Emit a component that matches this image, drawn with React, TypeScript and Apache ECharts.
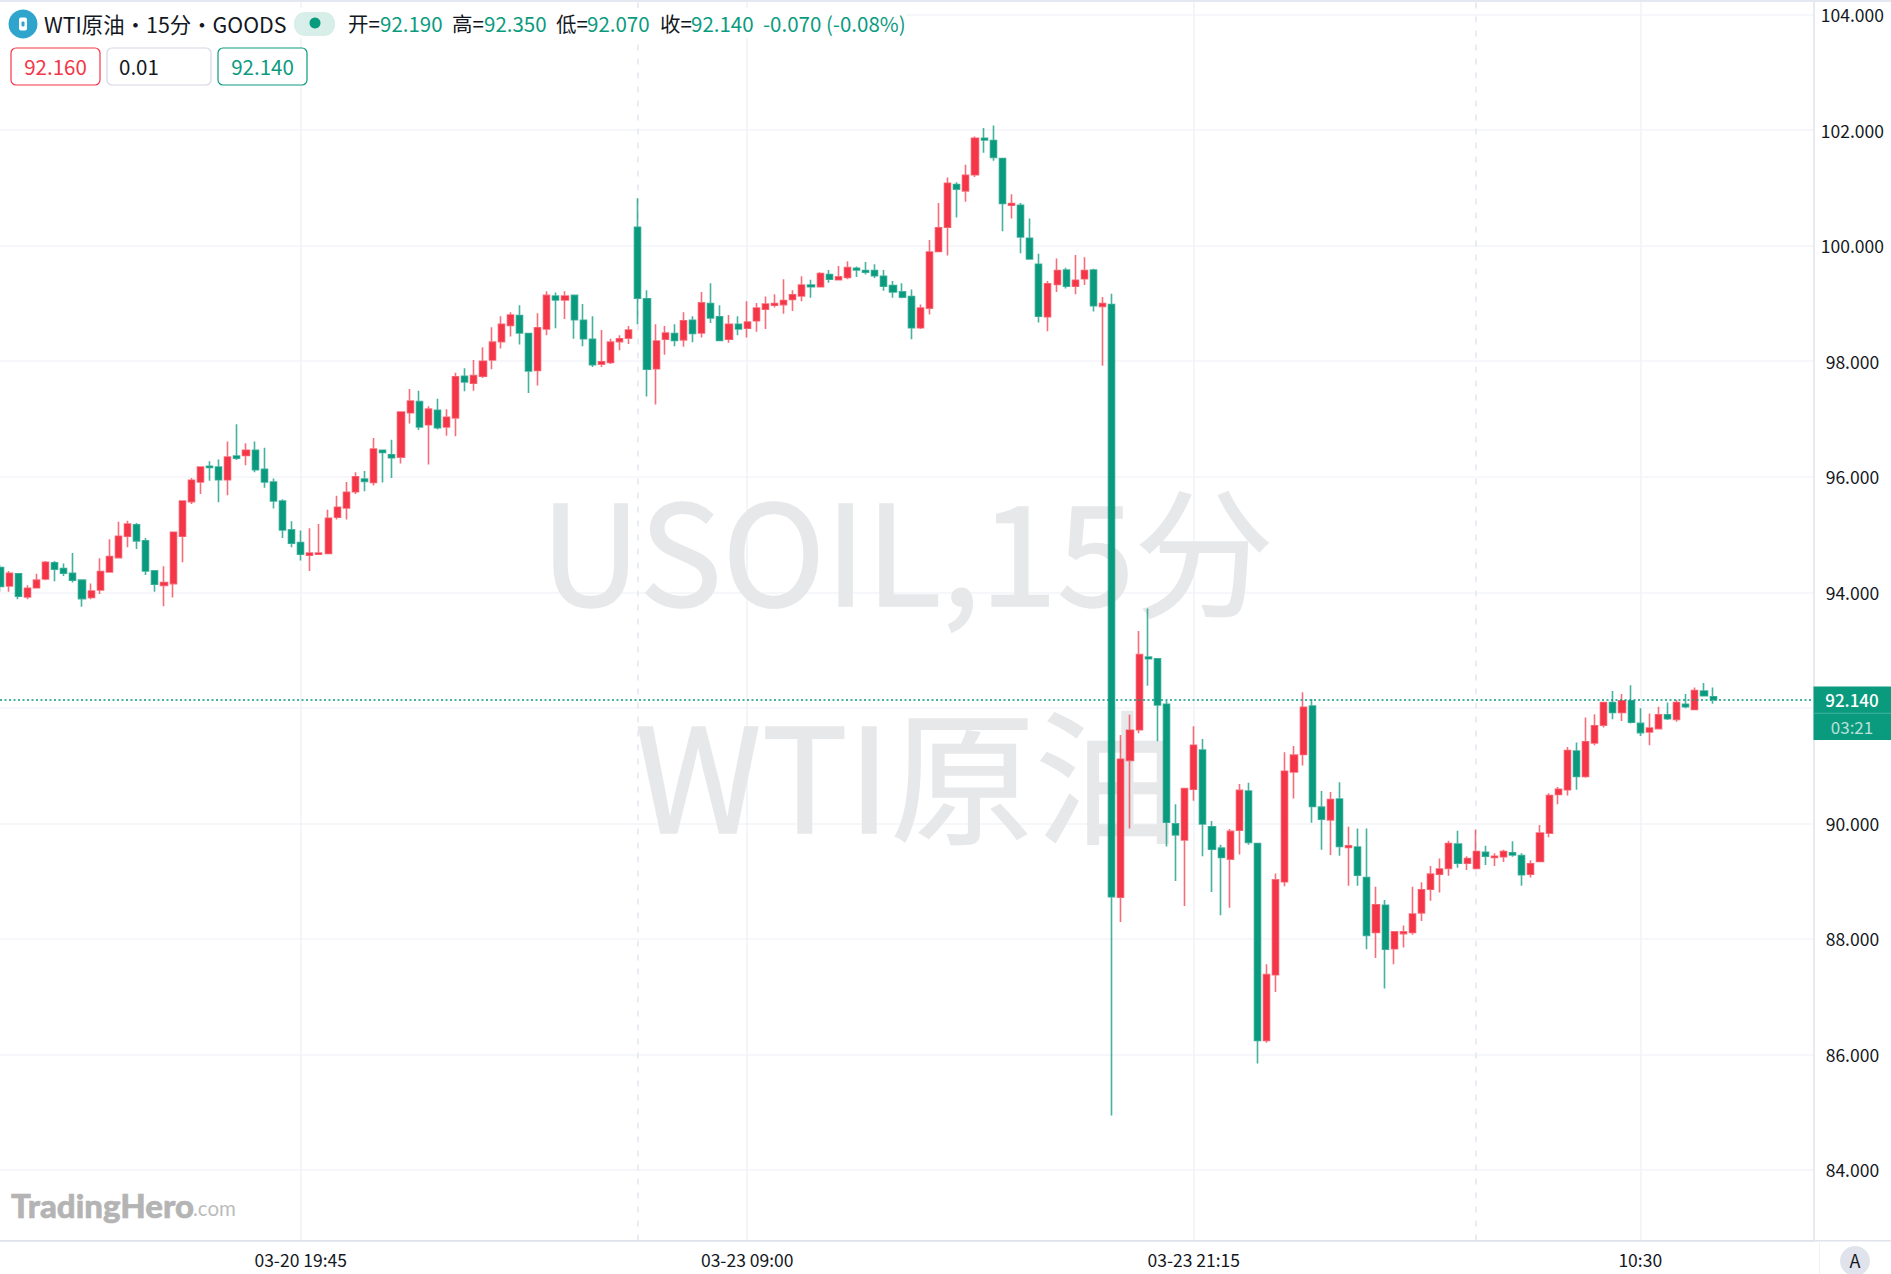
import React, { useEffect, useRef } from "react";
import * as echarts from "echarts";

// Candles, left to right (15-minute bars)
const opens = [
  94.43,94.11,94.32,93.92,94.08,94.23,94.51,94.41,94.33,94.21,
  93.91,94.04,94.35,94.60,94.97,95.17,94.89,94.37,94.12,94.15,
  94.97,95.57,95.91,96.18,96.17,95.95,96.36,96.37,96.46,96.13,
  95.91,95.58,95.08,94.86,94.64,94.66,94.67,95.30,95.46,95.74,
  95.96,95.90,96.46,96.38,96.34,97.11,97.30,96.90,97.15,96.86,
  97.02,97.74,97.62,97.74,98.02,98.34,98.62,98.79,98.48,97.84,
  98.56,99.13,99.06,99.14,98.71,98.38,97.95,97.98,98.34,98.40,
  100.32,99.08,97.87,98.38,98.48,98.37,98.71,98.49,99.00,98.77,
  98.38,98.64,98.57,98.70,98.90,98.97,98.98,99.07,99.13,99.32,
  99.29,99.50,99.41,99.45,99.61,99.57,99.57,99.47,99.31,99.20,
  99.12,98.58,98.92,99.90,100.32,101.06,100.95,101.23,101.86,101.82,
  101.51,100.70,100.70,100.13,99.68,98.77,99.33,99.58,99.30,99.43,
  99.58,98.95,98.98,88.72,91.09,91.62,92.88,92.85,92.06,89.99,
  89.71,90.59,91.27,89.94,89.57,89.38,89.88,90.56,89.65,86.24,
  87.38,88.99,90.89,91.19,92.03,90.28,90.06,90.42,89.58,89.59,
  89.06,88.11,88.58,87.83,88.09,88.11,88.45,88.86,89.12,89.22,
  89.64,89.31,89.22,89.50,89.41,89.42,89.49,89.44,89.12,89.34,
  89.83,90.50,90.58,91.25,90.81,91.39,91.70,92.09,91.92,92.12,
  91.73,91.58,91.64,91.88,91.80,92.06,91.97,92.29,92.19,
];
const closes = [
  94.10,94.33,93.93,94.07,94.21,94.52,94.40,94.33,94.21,93.89,
  94.02,94.36,94.62,94.97,95.18,94.89,94.37,94.14,94.17,95.04,
  95.58,95.94,96.17,96.16,95.95,96.34,96.32,96.46,96.12,95.91,
  95.58,95.08,94.85,94.66,94.68,94.68,95.28,95.47,95.73,96.00,
  95.92,96.48,96.42,96.33,97.12,97.31,96.86,97.17,96.85,97.03,
  97.73,97.64,97.75,98.00,98.33,98.64,98.80,98.49,97.83,98.58,
  99.14,99.06,99.13,98.72,98.39,97.94,97.99,98.33,98.39,98.54,
  99.09,97.86,98.35,98.49,98.36,98.70,98.48,99.01,98.75,98.36,
  98.64,98.56,98.68,98.92,98.99,99.00,99.05,99.15,99.32,99.29,
  99.52,99.42,99.46,99.62,99.58,99.54,99.48,99.30,99.20,99.11,
  98.58,98.92,99.89,100.31,101.08,100.98,101.22,101.86,101.83,101.53,
  100.73,100.73,100.15,99.77,98.78,99.34,99.57,99.30,99.40,99.57,
  98.96,99.00,88.73,91.11,91.61,92.92,92.85,92.05,90.02,89.80,
  90.60,91.35,89.99,89.55,89.41,89.86,90.57,89.67,86.24,87.38,
  89.02,90.90,91.18,92.01,90.29,90.07,90.41,89.60,89.61,89.10,
  88.06,88.59,87.82,88.12,88.12,88.43,88.85,89.12,89.21,89.65,
  89.31,89.39,89.51,89.43,89.43,89.51,89.45,89.11,89.30,89.83,
  90.48,90.59,91.26,90.81,91.41,91.69,92.09,91.92,92.12,91.75,
  91.57,91.65,91.88,91.81,92.09,92.02,92.30,92.21,92.14,
];
const lows = [
  94.01,94.01,93.88,93.88,94.08,94.21,94.19,94.28,94.17,93.75,
  93.88,93.97,94.34,94.60,94.78,94.75,94.30,94.01,93.76,93.91,
  94.52,95.53,95.70,95.93,95.56,95.68,96.29,96.20,96.08,95.81,
  95.45,94.94,94.78,94.55,94.37,94.66,94.67,95.26,95.26,95.70,
  95.75,95.85,95.90,95.98,96.23,96.92,96.81,96.21,96.82,96.71,
  96.70,97.48,97.49,97.71,97.86,98.22,98.43,98.29,97.45,97.58,
  98.45,98.57,98.73,98.39,98.26,97.90,97.90,97.95,98.19,98.30,
  98.64,97.39,97.25,98.11,98.26,98.25,98.33,98.41,98.66,98.36,
  98.32,98.45,98.41,98.51,98.56,98.93,98.82,98.87,99.04,99.10,
  99.28,99.36,99.41,99.42,99.46,99.50,99.44,99.22,99.10,99.09,
  98.38,98.56,98.81,99.89,99.83,100.49,100.76,101.19,101.61,101.47,
  100.25,100.47,99.87,99.77,98.67,98.52,99.20,99.26,99.16,99.32,
  98.86,97.92,84.94,88.29,89.91,91.56,92.38,91.42,89.60,89.00,
  88.57,90.39,89.43,88.81,88.41,88.54,89.46,89.63,85.84,86.20,
  87.08,88.91,90.43,91.00,90.01,89.54,89.45,89.44,88.92,88.92,
  87.82,87.67,87.14,87.56,87.85,88.07,88.31,88.66,88.80,89.09,
  89.23,89.19,89.20,89.28,89.26,89.33,89.42,88.92,89.06,89.34,
  89.76,90.33,90.48,90.58,90.79,91.35,91.66,91.80,91.77,91.73,
  91.51,91.35,91.64,91.79,91.76,91.99,91.96,92.21,92.07,
];
const highs = [
  94.47,94.37,94.33,94.12,94.32,94.54,94.54,94.50,94.68,94.21,
  94.15,94.59,94.92,95.22,95.24,95.20,94.94,94.37,94.45,95.04,
  95.58,95.98,96.18,96.27,96.30,96.61,96.91,96.58,96.61,96.50,
  95.97,95.61,95.23,95.07,95.11,95.18,95.43,95.67,95.91,96.08,
  96.10,96.67,96.46,96.64,97.13,97.52,97.49,97.22,97.35,97.17,
  97.80,97.88,98.02,98.24,98.59,98.78,98.85,98.97,98.48,98.83,
  99.21,99.19,99.21,99.14,98.99,98.78,98.54,98.39,98.45,98.61,
  100.82,99.23,98.64,98.61,98.64,98.85,98.78,99.20,99.35,98.97,
  98.80,98.78,99.04,99.01,99.12,99.16,99.42,99.23,99.47,99.41,
  99.54,99.58,99.65,99.73,99.64,99.72,99.68,99.58,99.39,99.35,
  99.24,98.98,100.10,100.74,101.18,101.10,101.40,101.89,102.04,102.08,
  101.51,100.89,100.74,100.47,99.86,99.39,99.78,99.62,99.84,99.80,
  99.60,99.11,99.17,91.53,91.88,93.33,93.72,92.85,92.12,90.33,
  90.60,91.68,91.46,90.04,89.63,89.90,90.68,90.70,89.66,87.56,
  89.13,91.23,91.34,92.27,92.15,90.56,90.54,90.71,89.94,89.91,
  89.91,88.90,88.67,88.12,88.23,88.90,88.98,89.26,89.39,89.70,
  89.87,89.43,89.89,89.61,89.48,89.54,89.69,89.48,89.36,89.97,
  90.52,90.63,91.32,91.40,91.83,91.89,92.09,92.29,92.24,92.39,
  91.99,91.90,92.02,92.09,92.14,92.24,92.35,92.43,92.35,
];

const gridTicks = [84, 86, 88, 90, 92, 94, 96, 98, 100, 102, 104];
const yTickLabels = [84, 86, 88, 90, 94, 96, 98, 100, 102, 104];
const xTickLabels: [number, string][] = [
  [33, "03-20 19:45"],
  [82, "03-23 09:00"],
  [131, "03-23 21:15"],
  [180, "10:30"],
];
const daySeparators = [70, 162];
const lastPrice = 92.14;
const blankBarsOnRight = 11;

const UP = "#F43648";
const DOWN = "#0A9B7F";
const CJK = '"Noto Sans CJK SC", "Noto Sans", sans-serif';

const categories: string[] = Array.from({ length: opens.length + blankBarsOnRight }, () => "");
xTickLabels.forEach(([i, s]) => { categories[i] = s; });
const tickSet = new Set(xTickLabels.map((t) => t[0]));
const candles = opens.map((o, i) => [o, closes[i], lows[i], highs[i]]);

const ohlcText: [string, string, number][] = [
  ["开=", "#131722", 348], ["92.190", DOWN, 380],
  ["高=", "#131722", 452], ["92.350", DOWN, 484],
  ["低=", "#131722", 556], ["92.070", DOWN, 587],
  ["收=", "#131722", 660], ["92.140", DOWN, 691],
  ["-0.070 (-0.08%)", DOWN, 763],
];

function label(x: number, y: number, text: string, fill: string, fontSize: number, extra: any = {}) {
  return {
    type: "text", x, y, z: 12,
    style: { text, fill, fontSize, fontFamily: CJK, textVerticalAlign: "middle", textAlign: "left", ...extra },
  };
}
function box(x: number, w: number, stroke: string) {
  return { type: "rect", z: 11, shape: { x, y: 48, width: w, height: 37, r: 5 }, style: { fill: "#fff", stroke, lineWidth: 1.2 } };
}

export default function App() {
  const ref = useRef<HTMLDivElement>(null);
  useEffect(() => {
    document.body.style.margin = "0";
    const chart = echarts.init(ref.current!, undefined, { renderer: "svg" });
    chart.setOption({
      animation: false,
      backgroundColor: "#fff",
      grid: { left: -1, top: 0, width: 1814.4, height: 1240.5, containLabel: false },
      xAxis: {
        type: "category",
        data: categories,
        boundaryGap: false,
        position: "bottom",
        axisLine: { show: true, onZero: false, lineStyle: { color: "#e0e3eb", width: 1.5 } },
        axisTick: { show: false },
        axisLabel: {
          interval: (i: number) => tickSet.has(i),
          color: "#131722", fontSize: 17.5, fontFamily: CJK, margin: 10,
        },
        splitLine: { show: true, interval: (i: number) => tickSet.has(i), lineStyle: { color: "#f1f2f7", width: 1.5 } },
      },
      yAxis: {
        type: "value",
        position: "right",
        min: 82.777,
        max: 104.254,
        axisLine: { show: true, lineStyle: { color: "#e0e3eb", width: 1.5 } },
        axisTick: { show: false, customValues: gridTicks },
        axisLabel: {
          customValues: yTickLabels,
          formatter: (v: number) => v.toFixed(3),
          color: "#131722", fontSize: 17.5, fontFamily: CJK, margin: 39, align: "center",
          padding: [0, 0, 4, 0],
        },
        splitLine: { show: true, lineStyle: { color: "#f3f4f8", width: 1.5 } },
      },
      series: [
        {
          type: "line",
          data: [],
          silent: true,
          markLine: {
            silent: true,
            symbol: "none",
            animation: false,
            z: 1,
            label: { show: false },
            data: daySeparators.map((i) => ({ xAxis: i, lineStyle: { color: "#e4e6ef", type: [6, 8], width: 1.5 } })),
          },
        },
        {
          type: "candlestick",
          data: candles,
          barWidth: 6.6,
          itemStyle: {
            color: UP, color0: DOWN,
            borderColor: "rgba(244,54,72,0.72)", borderColor0: "rgba(10,155,127,0.76)",
            borderWidth: 1.6,
          },
          markLine: {
            silent: true,
            symbol: "none",
            animation: false,
            label: { show: false },
            data: [{ yAxis: lastPrice, lineStyle: { color: DOWN, type: [2, 2.5], width: 1.5 } }],
          },
        },
      ],
      graphic: [
        // watermark
        { type: "text", x: 907, y: 545, z: 1, style: { text: "USOIL,15分", fill: "#e7e8ea", stroke: "#e7e8ea", lineWidth: 1.5, fontSize: 139, fontFamily: CJK, textAlign: "center", textVerticalAlign: "middle" } },
        { type: "text", x: 907, y: 770, z: 1, style: { text: "WTI原油", fill: "#e7e8ea", stroke: "#e7e8ea", lineWidth: 1.5, fontSize: 144.5, fontFamily: CJK, textAlign: "center", textVerticalAlign: "middle" } },
        // top edge and header backing
        { type: "rect", z: 10, shape: { x: 0, y: 0, width: 1891, height: 2 }, style: { fill: "#e4e8f2" } },
        { type: "rect", z: 10, shape: { x: 0, y: 8, width: 906, height: 30 }, style: { fill: "#fff" } },
        { type: "circle", z: 11, shape: { cx: 23, cy: 24, r: 14.5 }, style: { fill: "#2fa5cd" } },
        { type: "rect", z: 12, shape: { x: 19, y: 17.5, width: 8, height: 13, r: 2 }, style: { fill: "#fff" } },
        { type: "rect", z: 13, shape: { x: 21.5, y: 21.5, width: 3, height: 5, r: 1 }, style: { fill: "#2fa5cd" } },
        label(44, 23, "WTI原油・15分・GOODS", "#131722", 21.4),
        { type: "rect", z: 11, shape: { x: 294, y: 12, width: 41, height: 24, r: 11 }, style: { fill: "#d8efe9" } },
        { type: "circle", z: 12, shape: { cx: 315, cy: 23, r: 5.5 }, style: { fill: DOWN } },
        ...ohlcText.map(([t, c, x]) => label(x, 23, t, c, 20.5)),
        box(11, 89, UP),
        box(107, 104, "#d6d8e2"),
        box(218, 89, DOWN),
        label(55.5, 65.5, "92.160", UP, 20.5, { textAlign: "center" }),
        label(119, 65.5, "0.01", "#131722", 20.5),
        label(262.5, 65.5, "92.140", DOWN, 20.5, { textAlign: "center" }),
        // price tag
        { type: "rect", z: 10, shape: { x: 1813.5, y: 686.5, width: 77.5, height: 53.5 }, style: { fill: DOWN } },
        { type: "rect", z: 11, shape: { x: 1813.5, y: 712.8, width: 77.5, height: 1 }, style: { fill: "#45b39d" } },
        label(1852, 699, lastPrice.toFixed(3), "#fff", 17, { textAlign: "center", fontWeight: 500 }),
        label(1852, 726, "03:21", "rgba(255,255,255,0.72)", 17, { textAlign: "center" }),
        // logo
        { type: "text", x: 11, y: 1205, z: 3, style: { text: "TradingHero", fill: "#b4b4b4", stroke: "#b4b4b4", lineWidth: 0.6, fontSize: 33, fontWeight: 900, fontFamily: "Lato, sans-serif", textVerticalAlign: "middle" } },
        { type: "text", x: 193, y: 1208, z: 3, style: { text: ".com", fill: "#bcbcbc", fontSize: 20.5, fontFamily: "Lato, sans-serif", textVerticalAlign: "middle" } },
        // bottom-right
        { type: "rect", z: 3, shape: { x: 0, y: 1240, width: 1891, height: 1.5 }, style: { fill: "#e0e3eb" } },
        { type: "rect", z: 3, shape: { x: 1819, y: 1241, width: 1, height: 33 }, style: { fill: "#f0f1f5" } },
        { type: "circle", z: 3, shape: { cx: 1855, cy: 1261, r: 15 }, style: { fill: "#e0e3eb" } },
        { type: "text", x: 1855, y: 1260, z: 4, style: { text: "A", fill: "#131722", fontSize: 18, fontFamily: CJK, textAlign: "center", textVerticalAlign: "middle" } },
      ],
    });
    return () => chart.dispose();
  }, []);
  return <div ref={ref} style={{ position: "absolute", left: 0, top: 0, width: 1891, height: 1274 }} />;
}
